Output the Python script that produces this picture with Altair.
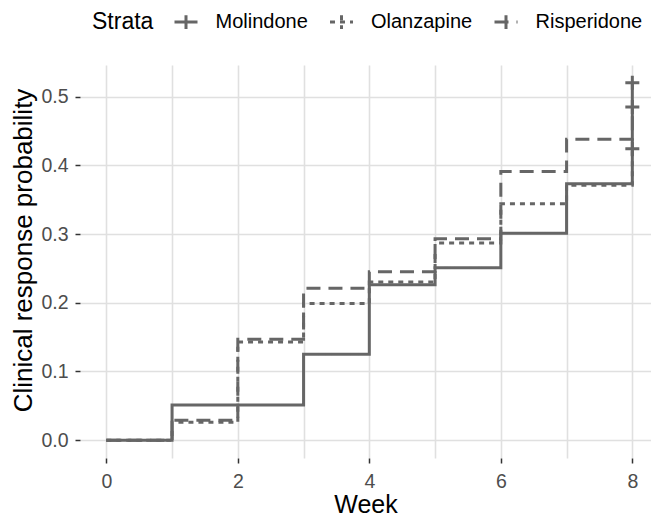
import altair as alt
import pandas as pd

weeks = [0, 1, 2, 3, 4, 5, 6, 7, 8]
strata = ["Molindone", "Olanzapine", "Risperidone"]
molindone = [0.0, 0.051, 0.051, 0.125, 0.226, 0.251, 0.301, 0.373, 0.52]
olanzapine = [0.0, 0.026, 0.143, 0.199, 0.230, 0.287, 0.344, 0.371, 0.424]
risperidone = [0.0, 0.029, 0.147, 0.221, 0.245, 0.293, 0.391, 0.438, 0.485]
censor_week = 8

series = [molindone, olanzapine, risperidone]
rows = []
for name, vals in zip(strata, series):
    for w, v in zip(weeks, vals):
        rows.append({"Week": w, "p": v, "Strata": name})
df = pd.DataFrame(rows)
cens = pd.DataFrame({
    "Week": [censor_week] * len(strata),
    "p": [s[-1] for s in series],
    "Strata": strata,
})

LINE = "#666666"
TICK = "#333333"

x_axis = alt.Axis(
    values=list(range(9)),
    labelExpr="datum.value % 2 == 0 ? format(datum.value, 'd') : ''",
    tickColor={"condition": {"test": "datum.value % 2 == 0", "value": TICK}, "value": "rgba(0,0,0,0)"},
    tickSize=5, tickWidth=1.5, labelPadding=9,
    titleBaseline="alphabetic", titleY=54, titleFontSize=25,
)
y_axis = alt.Axis(
    values=[i * 0.05 for i in range(11)],
    labelExpr="round(datum.value * 20) % 2 == 0 ? format(datum.value, '.1f') : ''",
    tickColor={"condition": {"test": "round(datum.value * 20) % 2 == 0", "value": TICK}, "value": "rgba(0,0,0,0)"},
    tickSize=5, tickWidth=1.5, labelPadding=7,
    titleBaseline="alphabetic", titleX=-49, titleY=185, titleAngle=270, titleFontSize=26,
)

xenc = alt.X("Week:Q", scale=alt.Scale(domain=[-0.4, 8.284], nice=False, zero=False), axis=x_axis, title="Week")
yenc = alt.Y("p:Q", scale=alt.Scale(domain=[-0.026, 0.546], nice=False, zero=False), axis=y_axis,
             title="Clinical response probability")

lines = alt.Chart(df).mark_line(interpolate="step-after", strokeWidth=3, color=LINE).encode(
    x=xenc,
    y=yenc,
    strokeDash=alt.StrokeDash(
        "Strata:N",
        scale=alt.Scale(domain=strata, range=[[1, 0], [5, 5], [14, 8]]),
        legend=alt.Legend(
            title="Strata",
            orient="none",
            direction="horizontal",
            titleOrient="left",
            legendX=12,
            legendY=-56,
            symbolType="M-1,0H1M0,-0.6V0.6",
            symbolSize=529,
            symbolStrokeWidth=3,
            symbolStrokeColor=LINE,
            labelOffset=16.5,
            columnPadding=15.5,
            titlePadding=19,
        ),
    ),
)

censor = alt.Chart(cens).mark_point(
    shape="M-1,0H1M0,-1V1", size=196, filled=False, strokeWidth=3, color=LINE, opacity=1
).encode(x=alt.X("Week:Q"), y=alt.Y("p:Q"))

chart = alt.layer(lines, censor).properties(
    width=571,
    height=393,
    autosize="none",
    padding={"left": 72, "top": 57, "right": 0, "bottom": 59},
).configure(font="Liberation Sans").configure_view(stroke=None).configure_axis(
    domain=False,
    grid=True,
    gridColor="#e0e0e0",
    gridWidth=1.6,
    labelFont="Liberation Sans",
    labelFontSize=19.5,
    labelColor="#4d4d4d",
    titleFont="Liberation Sans",
    titleFontWeight="normal",
    titleColor="#000000",
).configure_legend(
    labelFont="Liberation Sans",
    labelFontSize=20,
    labelColor="#000000",
    titleFont="Liberation Sans",
    titleFontSize=23,
    titleFontWeight="normal",
    titleColor="#000000",
    titleBaseline="middle",
)

chart.save("out.html", embed_options={"renderer": "svg", "actions": False})
